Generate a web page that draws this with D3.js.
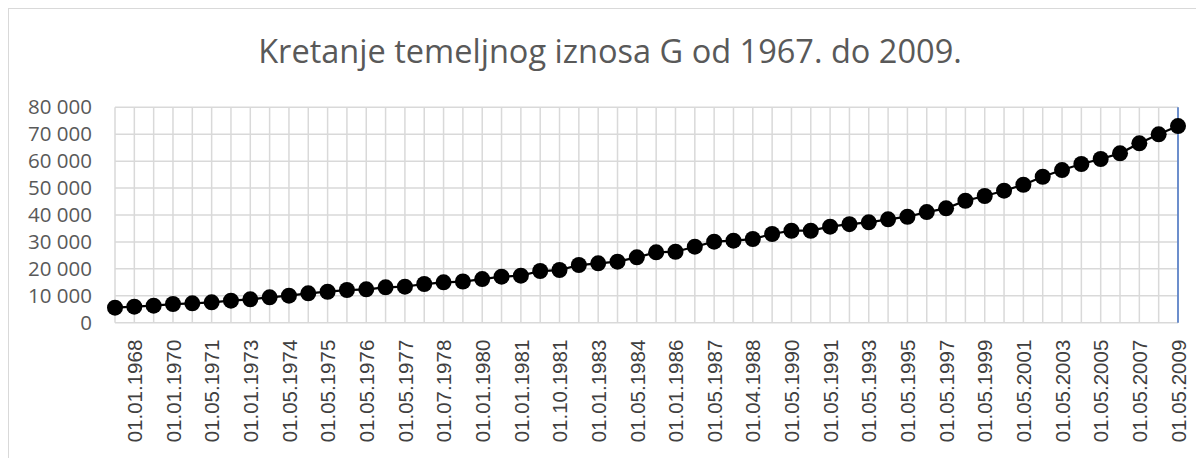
<!DOCTYPE html>
<html>
<head>
<meta charset="utf-8">
<script src="https://cdn.jsdelivr.net/npm/d3@7"></script>
<style>
  body { margin: 0; background: #fff; }
  svg { display: block; }
</style>
</head>
<body>
<script>
// visible category labels (every second category carries a label)
var tickLabels = ["01.01.1968", "01.01.1970", "01.05.1971", "01.01.1973", "01.05.1974",
  "01.05.1975", "01.05.1976", "01.05.1977", "01.07.1978", "01.01.1980", "01.01.1981",
  "01.10.1981", "01.01.1983", "01.05.1984", "01.01.1986", "01.05.1987", "01.04.1988",
  "01.05.1990", "01.05.1991", "01.05.1993", "01.05.1995", "01.05.1997", "01.05.1999",
  "01.05.2001", "01.05.2003", "01.05.2005", "01.05.2007", "01.05.2009"];

// temeljni iznos G, one value per category (56)
var values = [5570, 5940, 6310, 6940, 7190, 7560, 8180, 8680, 9430, 10030,
  10900, 11500, 12140, 12380, 13140, 13380, 14370, 14990, 15300, 16200,
  17080, 17450, 19200, 19570, 21420, 22050, 22650, 24280, 26140, 26360,
  28220, 30080, 30450, 31080, 32940, 34160, 34160, 35650, 36600, 37280,
  38390, 39360, 41100, 42470, 45300, 47050, 49020, 51240, 54210, 56700,
  58930, 60790, 62900, 66620, 69960, 73040];

var yTicks = [0, 10000, 20000, 30000, 40000, 50000, 60000, 70000, 80000];

var width = 1196, height = 458;
var plotLeft = 115, plotRight = 1178, plotTop = 107.3, plotBottom = 322.7;

var svg = d3.select("body").append("svg")
  .attr("width", width)
  .attr("height", height);

// chart area border
svg.append("rect")
  .attr("x", 8.5).attr("y", 8.5)
  .attr("width", width + 20).attr("height", height + 20)
  .attr("fill", "#fff")
  .attr("stroke", "#d9d9d9")
  .attr("stroke-width", 1);

var x = d3.scalePoint().domain(d3.range(values.length)).range([plotLeft, plotRight]);
var y = d3.scaleLinear().domain([0, 80000]).range([plotBottom, plotTop]);

// title, fitted to the width seen in the picture
var title = svg.append("text")
  .attr("x", 610).attr("y", 63)
  .attr("text-anchor", "middle")
  .style("font-family", "'Open Sans', sans-serif")
  .style("font-size", "27px")
  .attr("fill", "#595959")
  .text("Kretanje temeljnog iznosa G od 1967. do 2009.");
var tw = title.node().getComputedTextLength();
title.style("font-size", (27 * 704 / tw) + "px");

// gridlines
var grid = svg.append("g");
grid.selectAll("line.h").data(yTicks).enter().append("line")
  .attr("class", "h")
  .attr("x1", plotLeft).attr("x2", plotRight)
  .attr("y1", function (d) { return y(d); })
  .attr("y2", function (d) { return y(d); })
  .attr("stroke", "#d9d9d9").attr("stroke-width", 1.5);
grid.selectAll("line.v").data(x.domain()).enter().append("line")
  .attr("class", "v")
  .attr("x1", function (d) { return x(d); })
  .attr("x2", function (d) { return x(d); })
  .attr("y1", plotTop).attr("y2", plotBottom)
  .attr("stroke", "#d9d9d9").attr("stroke-width", 1.5);

// blue line at right edge
svg.append("line")
  .attr("x1", plotRight).attr("x2", plotRight)
  .attr("y1", plotTop).attr("y2", plotBottom)
  .attr("stroke", "#4472c4").attr("stroke-width", 1.5);

// y axis
var yAxis = d3.axisLeft(y).tickValues(yTicks).tickSize(0).tickPadding(0)
  .tickFormat(function (d) { return d3.format(",")(d).replace(/,/g, " "); });
var gy = svg.append("g").attr("transform", "translate(92,0)").call(yAxis);
gy.select(".domain").remove();
gy.selectAll("text")
  .style("font-family", "'Open Sans', sans-serif")
  .style("font-size", "20.5px")
  .attr("fill", "#595959");

// x axis
var xAxis = d3.axisBottom(x).tickSize(0).tickPadding(0)
  .tickValues(x.domain().filter(function (d) { return d % 2 === 1; }))
  .tickFormat(function (d) { return tickLabels[(d - 1) / 2]; });
var gx = svg.append("g").attr("transform", "translate(0," + plotBottom + ")").call(xAxis);
gx.select(".domain").remove();
gx.selectAll("text")
  .attr("transform", "rotate(-90)")
  .attr("x", -17).attr("y", 0).attr("dy", "0.35em")
  .attr("text-anchor", "end")
  .style("font-family", "'Liberation Sans', Arial, sans-serif")
  .style("font-size", "20.5px")
  .attr("fill", "#404040");

// line and markers
var line = d3.line()
  .x(function (d, i) { return x(i); })
  .y(function (d) { return y(d); });

svg.append("path")
  .datum(values)
  .attr("d", line)
  .attr("fill", "none")
  .attr("stroke", "#000")
  .attr("stroke-width", 2.25);

svg.selectAll("circle.pt").data(values).enter().append("circle")
  .attr("class", "pt")
  .attr("cx", function (d, i) { return x(i); })
  .attr("cy", function (d) { return y(d); })
  .attr("r", 8)
  .attr("fill", "#000");
</script>
</body>
</html>
